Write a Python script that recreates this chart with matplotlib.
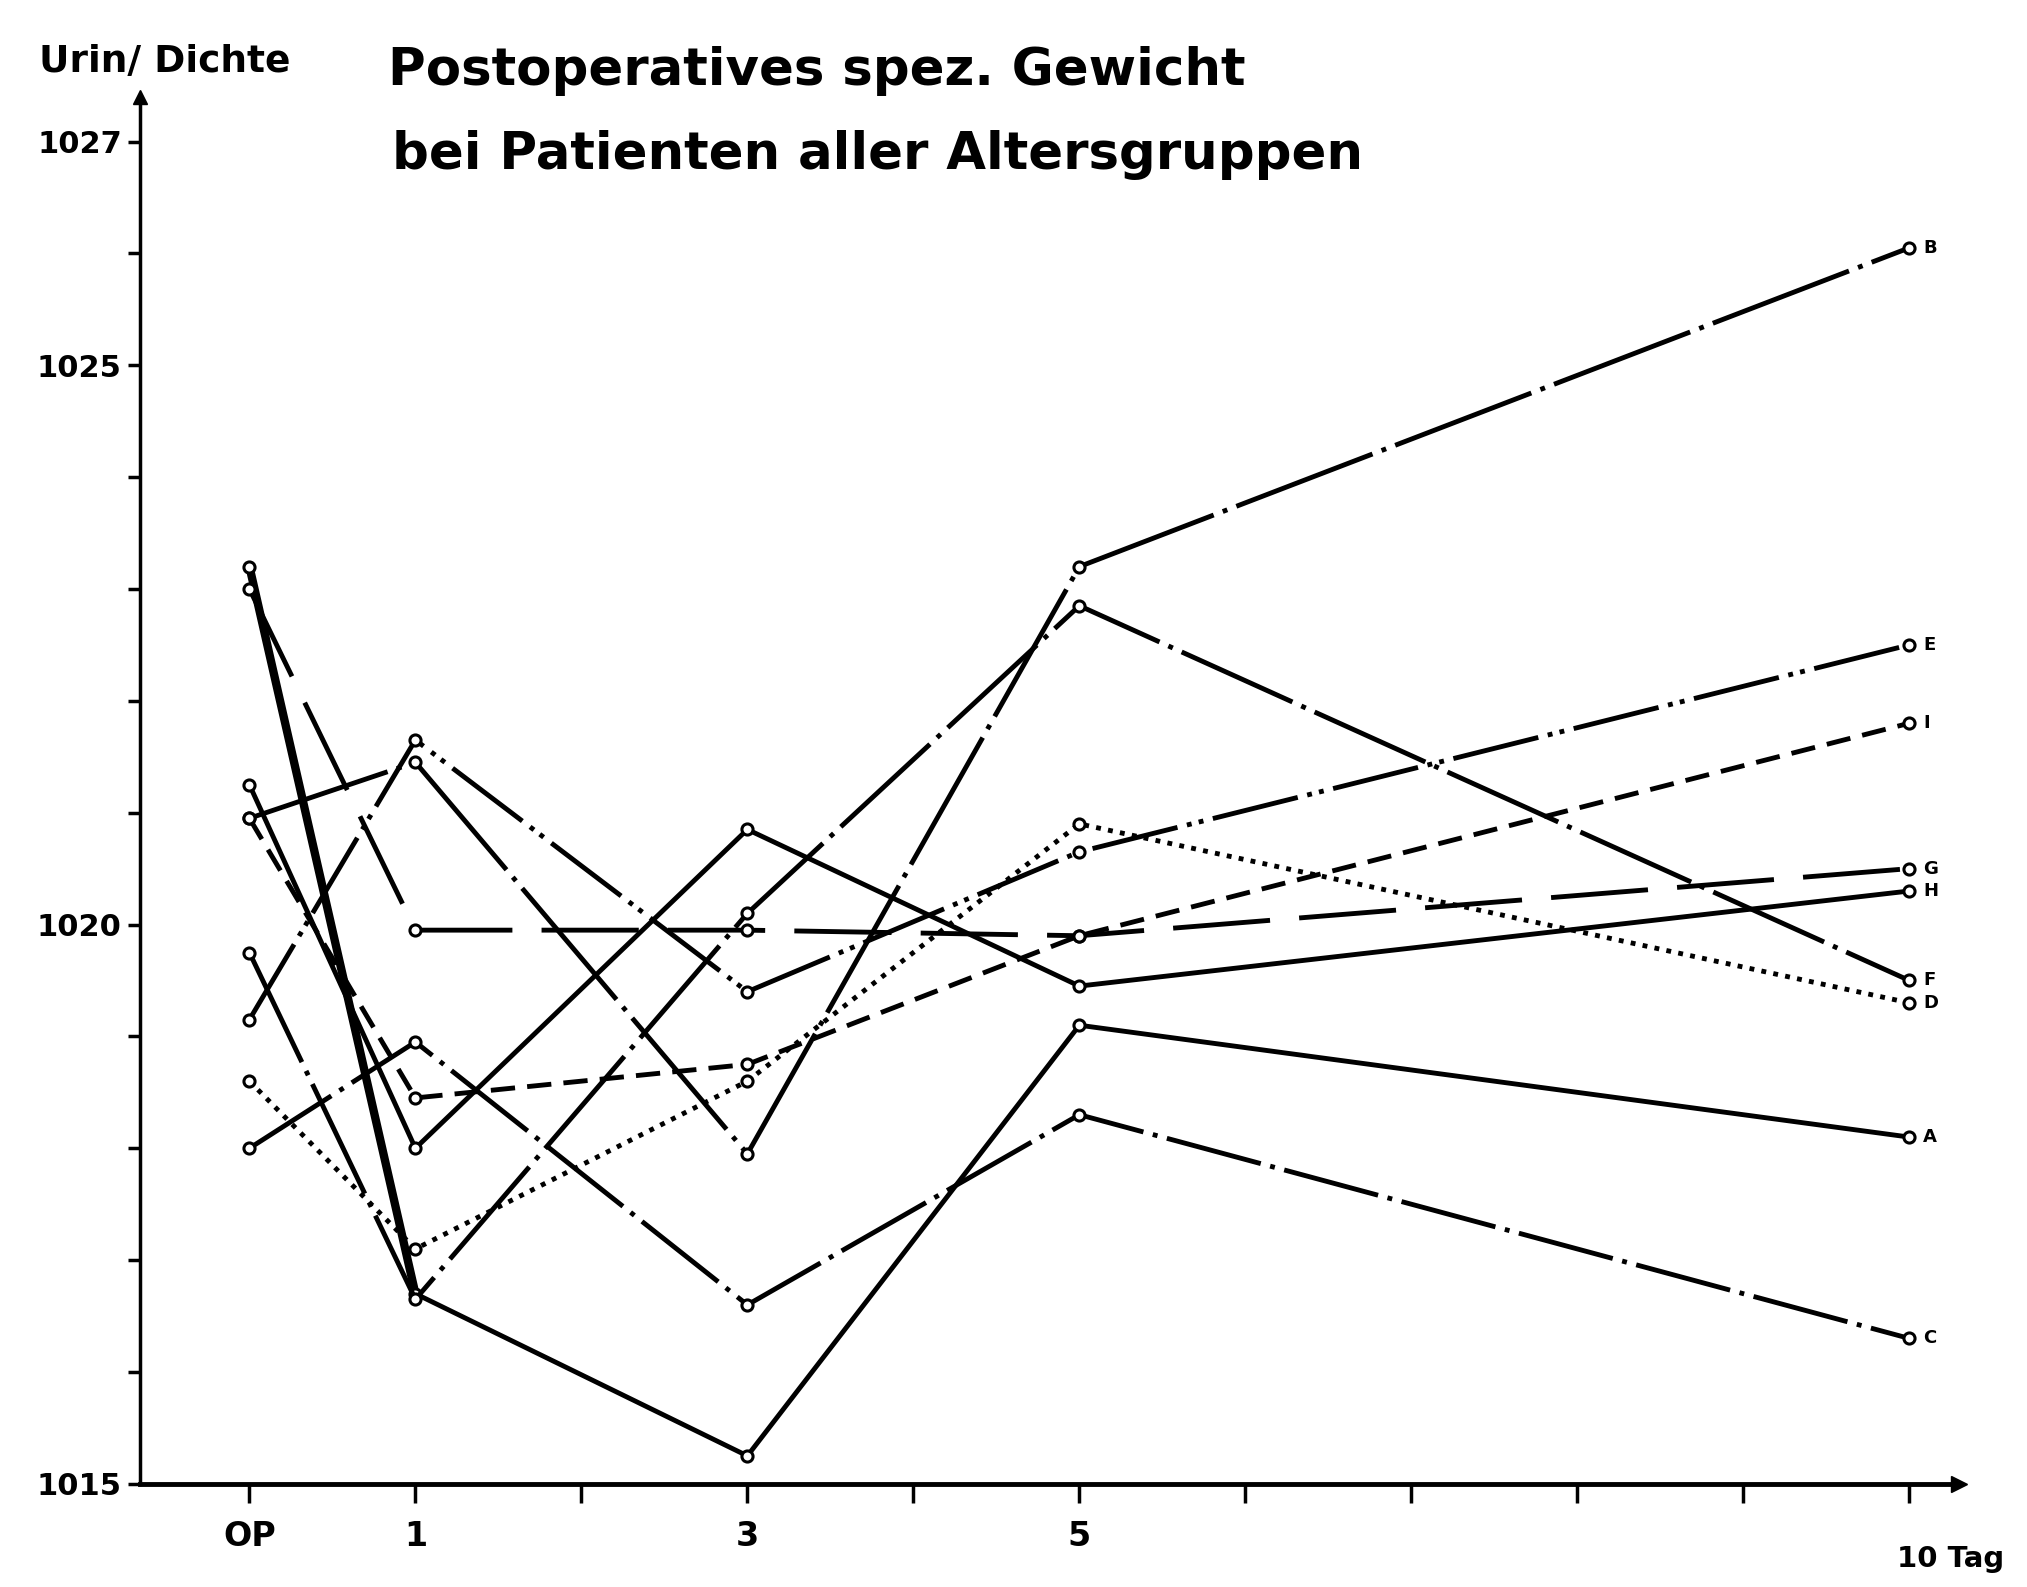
import numpy as np
import matplotlib.pyplot as plt

# days after operation (OP = 0)
days = [0, 1, 3, 5, 10]

# urine specific gravity per patient
urin_a = [1023.2, 1016.7, 1015.25, 1019.1, 1018.1]
urin_b = [1020.95, 1021.45, 1017.95, 1023.2, 1026.05]
urin_c = [1018.0, 1018.95, 1016.6, 1018.3, 1016.3]
urin_d = [1018.6, 1017.1, 1018.6, 1020.9, 1019.3]
urin_e = [1019.15, 1021.65, 1019.4, 1020.65, 1022.5]
urin_f = [1019.75, 1016.65, 1020.1, 1022.85, 1019.5]
urin_g = [1023.0, 1019.95, 1019.95, 1019.9, 1020.5]
urin_h = [1021.25, 1018.0, 1020.85, 1019.45, 1020.3]
urin_i = [1020.95, 1018.45, 1018.75, 1019.9, 1021.8]

names = ['A', 'B', 'C', 'D', 'E', 'F', 'G', 'H', 'I']
series = [urin_a, urin_b, urin_c, urin_d, urin_e, urin_f, urin_g, urin_h, urin_i]

# line styles of the old drawing
styles = {
    'A': '-',
    'B': (0, (30, 2, 1, 2)),
    'C': (0, (20, 2, 1, 2)),
    'D': (0, (1, 1.5)),
    'E': (0, (18, 2, 1, 1.5, 1, 2)),
    'F': (0, (25, 2, 1, 2)),
    'G': (0, (20, 6)),
    'H': '-',
    'I': (0, (5, 2.5)),
}

xtick_lab = ['OP', '1', '', '3', '', '5', '', '', '', '', '']
ytick_pos = [1015, 1020, 1025, 1027]

fig = plt.figure(figsize=(20.27, 15.87), dpi=100)
ax = fig.add_axes([0.069, 0.065, 0.8975, 0.874])

# first segment of A is drawn extra heavy in the original (kept under the markers)
ax.plot(days[:2], urin_a[:2], color='black', lw=6, zorder=1.5)

for name, vals in zip(names, series):
    ax.plot(days, vals, color='black', lw=3.5, linestyle=styles[name],
            marker='o', ms=8, mfc='white', mec='black', mew=2.2, zorder=2)
    # small letter at the right end of each curve
    ax.annotate(name, (days[-1], vals[-1]), xytext=(10, 0), textcoords='offset points',
                va='center', ha='left', fontsize=13, fontweight='bold')

ax.set_xlim(-0.66, 10.3)
ax.set_ylim(1015, 1027.4)

for s in ['top', 'right']:
    ax.spines[s].set_visible(False)
ax.spines['left'].set_linewidth(2.5)
ax.spines['bottom'].set_linewidth(3.5)

# arrow heads on the axes
ax.plot(1, 0, '>', color='black', ms=11, transform=ax.transAxes, clip_on=False)
ax.plot(0, 1, '^', color='black', ms=10, transform=ax.transAxes, clip_on=False)

ax.set_xticks(range(0, 11))
ax.set_xticklabels(xtick_lab, fontsize=24, fontweight='bold')
ax.tick_params(axis='x', direction='out', length=14, width=2.5, pad=12)
ax.annotate('10 Tag', (10, 0), xycoords=ax.get_xaxis_transform(), xytext=(-9, -44),
            textcoords='offset points', ha='left', va='top', fontsize=21, fontweight='bold')

ax.set_yticks(range(1015, 1028))
ax.set_yticklabels([str(v) if v in ytick_pos else '' for v in range(1015, 1028)],
                   fontsize=22, fontweight='bold')
ax.tick_params(axis='y', direction='out', length=9, width=2.5, pad=4)

fig.text(39 / 2027, 1 - 62 / 1587, 'Urin/ Dichte', ha='left', va='center',
         fontsize=27, fontweight='bold')
fig.text(388 / 2027, 1 - 71 / 1587, 'Postoperatives spez. Gewicht', ha='left', va='center',
         fontsize=37, fontweight='bold')
fig.text(392 / 2027, 1 - 155 / 1587, 'bei Patienten aller Altersgruppen', ha='left', va='center',
         fontsize=37, fontweight='bold')

fig.savefig('out.png', dpi=100, facecolor='white')
